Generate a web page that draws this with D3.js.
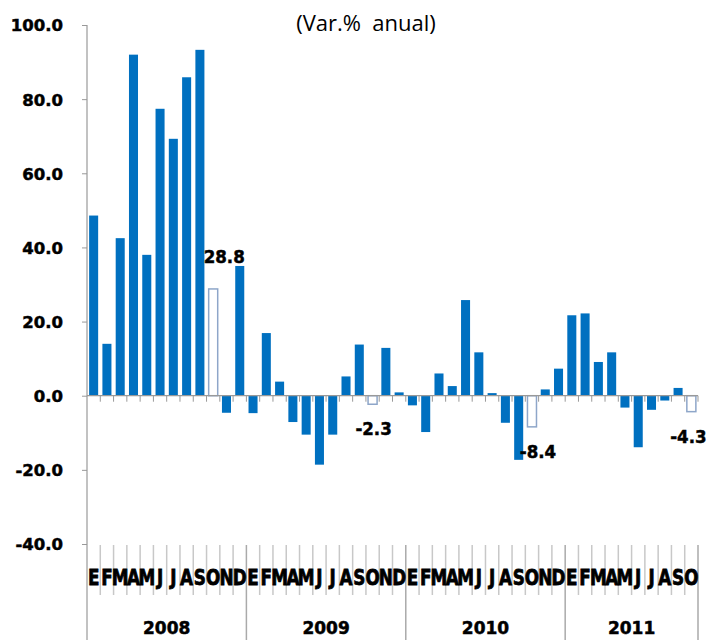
<!DOCTYPE html>
<html>
<head>
<meta charset="utf-8">
<script src="https://cdn.jsdelivr.net/npm/d3@7"></script>
<style>
  body { margin: 0; background: #fff; }
  svg { display: block; }
  .tick-label { font-family: "DejaVu Sans", sans-serif; font-weight: bold; fill: #000; stroke: #000; stroke-width: 0.5px; }
</style>
</head>
<body>
<svg id="chart"></svg>
<script>
// data, monthly Jan 2008 - Oct 2011
var years = ['2008', '2009', '2010', '2011'];
var monthLetters = ['E', 'F', 'M', 'A', 'M', 'J', 'J', 'A', 'S', 'O', 'N', 'D'];
var values2008 = [48.6, 14.0, 42.5, 92.0, 38.0, 77.4, 69.3, 85.9, 93.3, 28.8, -4.6, 35.0];
var values2009 = [-4.7, 16.9, 3.8, -7.1, -10.5, -18.6, -10.5, 5.2, 13.8, -2.3, 12.9, 0.9];
var values2010 = [-2.6, -9.8, 6.0, 2.6, 25.8, 11.7, 0.7, -7.3, -17.3, -8.4, 1.7, 7.3];
var values2011 = [21.7, 22.2, 9.1, 11.7, -3.2, -13.9, -3.8, -1.3, 2.1, -4.3];
var yTicks = [-40, -20, 0, 20, 40, 60, 80, 100];

var width = 707,
    height = 640;

var svg = d3.select('#chart')
    .attr('width', width)
    .attr('height', height);

// flatten
var data = [];
[values2008, values2009, values2010, values2011].forEach(function (arr, yi) {
    arr.forEach(function (v, mi) {
        data.push({ year: years[yi], month: mi, letter: monthLetters[mi], value: v, idx: data.length });
    });
});

var x = d3.scaleBand()
    .domain(data.map(function (d) { return d.idx; }))
    .range([87, 698])
    .padding(0);

var y = d3.scaleLinear()
    .domain([-40, 100])
    .range([544, 25]);

var barW = x.step() * 0.68;
var fmt = function (v) { return d3.format('.1f')(v).replace('\u2212', '-'); };
var hollow = function (d) { return d.month == 9; }; // october

// title
svg.append('text')
    .attr('x', 366)
    .attr('y', 31)
    .attr('text-anchor', 'middle')
    .style('font-family', '"Open Sans", sans-serif')
    .style('font-size', '22px')
    .style('white-space', 'pre')
    .text('(Var.%  anual)');

// y axis
var yAxis = d3.axisLeft(y)
    .tickValues(yTicks)
    .tickSize(5)
    .tickFormat(fmt);

var gy = svg.append('g')
    .attr('transform', 'translate(87,0)')
    .call(yAxis);
gy.select('.domain').remove();
gy.selectAll('.tick line').attr('stroke', '#999');
gy.selectAll('.tick text')
    .attr('class', 'tick-label')
    .attr('x', -24)
    .attr('dy', '0.36em')
    .style('font-size', '16.5px')
    .attr('font-family', null)
    .attr('font-size', null);

// vertical axis line runs down through the category area
svg.append('line')
    .attr('x1', 87).attr('x2', 87)
    .attr('y1', y(100)).attr('y2', height)
    .attr('stroke', '#999')
    .attr('stroke-width', 1.2);

// bars
svg.append('g').attr('class', 'bars')
    .selectAll('rect')
    .data(data)
    .enter().append('rect')
    .attr('x', function (d) { return x(d.idx) + (x.step() - barW) / 2; })
    .attr('width', barW)
    .attr('y', function (d) { return y(Math.max(0, d.value)); })
    .attr('height', function (d) { return Math.abs(y(d.value) - y(0)); })
    .attr('fill', function (d) { return hollow(d) ? '#fff' : '#0070C0'; })
    .attr('stroke', function (d) { return hollow(d) ? '#8EA6C9' : 'none'; })
    .attr('stroke-width', 1.5);

// zero line with small ticks
svg.append('line')
    .attr('x1', 87).attr('x2', 698)
    .attr('y1', y(0)).attr('y2', y(0))
    .attr('stroke', '#999')
    .attr('stroke-width', 1.2);

svg.append('g').selectAll('line')
    .data(d3.range(1, data.length + 1))
    .enter().append('line')
    .attr('x1', function (i) { return 87 + i * x.step(); })
    .attr('x2', function (i) { return 87 + i * x.step(); })
    .attr('y1', y(0))
    .attr('y2', y(0) + 6)
    .attr('stroke', '#999');

// data labels on hollow bars
var labelDx = { '2008': 11, '2009': 1, '2010': 6, '2011': -3 };
svg.append('g').selectAll('text')
    .data(data.filter(hollow))
    .enter().append('text')
    .attr('class', 'tick-label')
    .attr('transform', function (d) {
        var cx = x(d.idx) + x.step() / 2 + labelDx[d.year];
        var cy = d.value >= 0 ? y(d.value) - 26 : y(d.value) + 31;
        return 'translate(' + cx + ',' + cy + ') scale(0.9,1)';
    })
    .attr('text-anchor', 'middle')
    .style('font-size', '18.5px')
    .text(function (d) { return fmt(d.value); });

// category area: month separators
var catTop = 545;
svg.append('g').selectAll('line')
    .data(d3.range(1, data.length + 1))
    .enter().append('line')
    .attr('x1', function (i) { return 87 + i * x.step(); })
    .attr('x2', function (i) { return 87 + i * x.step(); })
    .attr('y1', catTop)
    .attr('y2', function (i) { return (i % 12 == 0 || i == data.length) ? height : 595; })
    .attr('stroke', function (i) { return (i % 12 == 0 || i == data.length) ? '#aaa' : '#c8c8c8'; })
    .attr('stroke-width', 1.5);

// month letters
svg.append('g').selectAll('text')
    .data(data)
    .enter().append('text')
    .attr('class', 'tick-label')
    .attr('transform', function (d) {
        return 'translate(' + (x(d.idx) + x.step() / 2) + ',585) scale(0.82,1)';
    })
    .attr('text-anchor', 'middle')
    .style('font-size', '20.5px')
    .style('stroke-width', '0.8px')
    .text(function (d) { return d.letter; });

// year labels
var yearCounts = [values2008.length, values2009.length, values2010.length, values2011.length];
var start = 0;
years.forEach(function (yr, i) {
    var x0 = 87 + start * x.step(),
        x1 = 87 + (start + yearCounts[i]) * x.step();
    svg.append('text')
        .attr('class', 'tick-label')
        .attr('x', (x0 + x1) / 2)
        .attr('y', 634)
        .attr('text-anchor', 'middle')
        .style('font-size', '17px')
        .text(yr);
    start += yearCounts[i];
});
</script>
</body>
</html>
